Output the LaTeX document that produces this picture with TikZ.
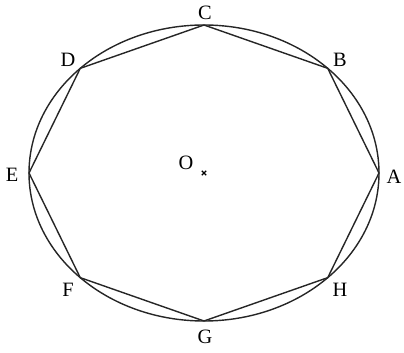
\documentclass[tikz,border=0pt]{standalone}
\usepackage{fontspec}
\setmainfont{Liberation Serif}
\usetikzlibrary{calc}

\begin{document}
\begin{tikzpicture}[
  font=\fontsize{14.5}{16}\selectfont,
  lado/.style={line width=1pt, black!85},
  etq/.style={inner sep=0pt}
]
\useasboundingbox (0,0) rectangle (10.1,8.8);

%% ===== circulo =====
\coordinate (O) at (5.1,4.475);
\draw[lado] (O) ellipse [x radius=4.375, y radius=3.7];

%% ===== octogono =====
\coordinate (A) at ($(O)+(0:4.375 and 3.7)$);
\coordinate (B) at ($(O)+(45:4.375 and 3.7)$);
\coordinate (C) at ($(O)+(90:4.375 and 3.7)$);
\coordinate (D) at ($(O)+(135:4.375 and 3.7)$);
\coordinate (E) at ($(O)+(180:4.375 and 3.7)$);
\coordinate (F) at ($(O)+(225:4.375 and 3.7)$);
\coordinate (G) at ($(O)+(270:4.375 and 3.7)$);
\coordinate (H) at ($(O)+(315:4.375 and 3.7)$);
\draw[lado, line join=round] (A) -- (B) -- (C) -- (D) -- (E) -- (F) -- (G) -- (H) -- cycle;

%% ===== etiquetas =====
\node[etq] (lA) at (9.85,4.375) {A};
\node[etq] (lB) at (8.5,7.3) {B};
\node[etq] (lC) at (5.125,8.475) {C};
\node[etq] (lD) at (1.7,7.3) {D};
\node[etq] (lE) at (0.3,4.425) {E};
\node[etq] (lF) at (1.7,1.55) {F};
\node[etq] (lG) at (5.125,0.375) {G};
\node[etq] (lH) at (8.5,1.55) {H};

%% ===== centro =====
\node[etq] (lO) at (4.65,4.725) {O};
\draw[line width=0.8pt] ($(O)+(-0.055,-0.055)$) -- ($(O)+(0.055,0.055)$);
\draw[line width=0.8pt] ($(O)+(-0.055,0.055)$) -- ($(O)+(0.055,-0.055)$);
\end{tikzpicture}
\end{document}
